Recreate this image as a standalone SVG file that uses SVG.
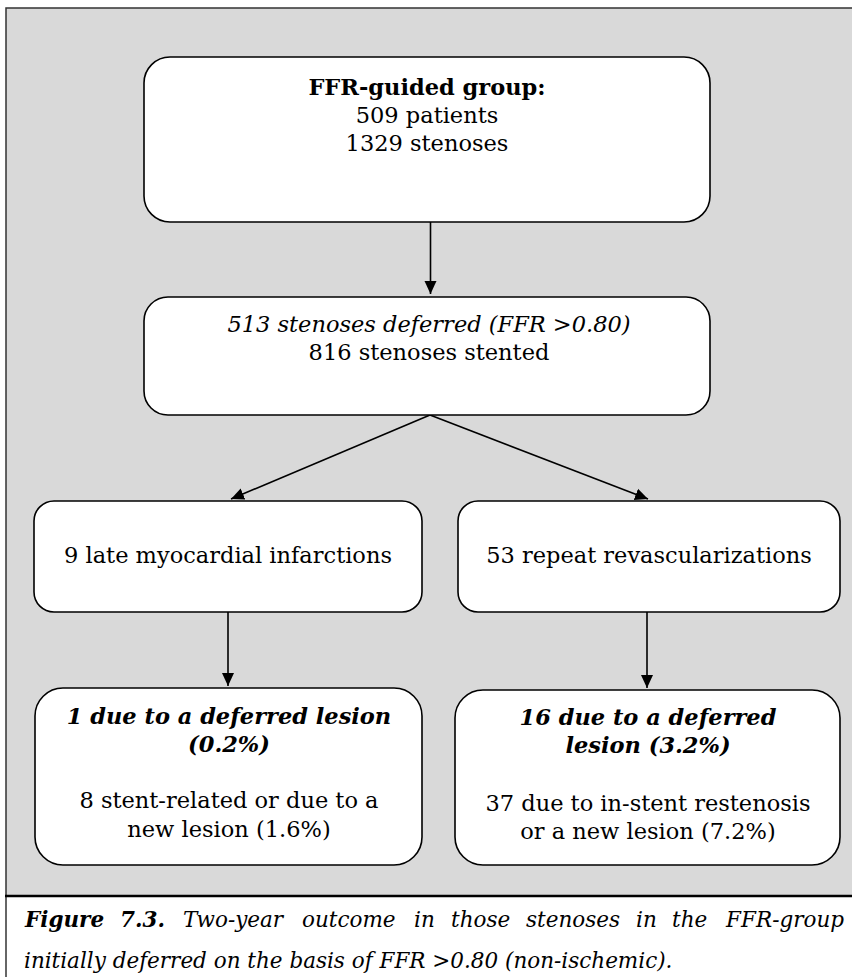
<svg xmlns="http://www.w3.org/2000/svg" width="852" height="977" viewBox="0 0 852 977">
  <style>
    .box { fill: #ffffff; stroke: #000000; stroke-width: 1.6; }
    .t { font-family: "DejaVu Serif", "Liberation Serif", serif; font-size: 22.5px; fill: #000000; text-anchor: middle; }
    .b { font-weight: bold; }
    .i { font-style: italic; }
    .cap { font-family: "DejaVu Serif", "Liberation Serif", serif; font-size: 21.5px; font-style: italic; fill: #000000; }
    .edge { stroke: #000000; stroke-width: 1.6; fill: none; marker-end: url(#head); }
  </style>
  <defs>
    <marker id="head" markerUnits="userSpaceOnUse" markerWidth="14" markerHeight="14" viewBox="0 0 14 14" refX="13" refY="7" orient="auto">
      <path d="M0,1 L13,7 L0,13 Z" fill="#000000"/>
    </marker>
  </defs>

  <!-- page frame -->
  <rect x="6" y="8" width="860" height="888" fill="#d9d9d9" stroke="#333333" stroke-width="1.5"/>
  <rect x="6.5" y="897" width="850" height="82" fill="#ffffff"/>
  <line x1="6" y1="896" x2="6" y2="977" stroke="#333333" stroke-width="1.5"/>
  <line x1="5" y1="896" x2="852" y2="896" stroke="#000000" stroke-width="2.5"/>

  <g id="connectors">
    <line class="edge" x1="430.5" y1="222" x2="430.5" y2="294"/>
    <line class="edge" x1="430" y1="415" x2="231" y2="499"/>
    <line class="edge" x1="430" y1="415" x2="648" y2="499"/>
    <line class="edge" x1="228" y1="612" x2="228" y2="686"/>
    <line class="edge" x1="647" y1="612" x2="647" y2="688"/>
  </g>

  <g id="node-ffr-group">
    <rect class="box" x="144" y="57" width="566" height="165" rx="26" ry="26"/>
    <text class="t b" x="427" y="95">FFR-guided group:</text>
    <text class="t" x="427" y="123">509 patients</text>
    <text class="t" x="427" y="151">1329 stenoses</text>
  </g>

  <g id="node-stenoses">
    <rect class="box" x="144" y="297" width="566" height="118" rx="24" ry="24"/>
    <text class="t i" x="429" y="332">513 stenoses deferred (FFR &gt;0.80)</text>
    <text class="t" x="429" y="360">816 stenoses stented</text>
  </g>

  <g id="node-mi">
    <rect class="box" x="34" y="501" width="388" height="111" rx="20" ry="20"/>
    <text class="t" x="228" y="563">9 late myocardial infarctions</text>
  </g>

  <g id="node-revasc">
    <rect class="box" x="458" y="501" width="382" height="111" rx="20" ry="20"/>
    <text class="t" x="649" y="563">53 repeat revascularizations</text>
  </g>

  <g id="node-mi-detail">
    <rect class="box" x="35" y="688" width="387" height="177" rx="28" ry="28"/>
    <text class="t b i" x="229" y="724">1 due to a deferred lesion</text>
    <text class="t b i" x="229" y="752">(0.2%)</text>
    <text class="t" x="229" y="808">8 stent-related or due to a</text>
    <text class="t" x="229" y="837">new lesion (1.6%)</text>
  </g>

  <g id="node-revasc-detail">
    <rect class="box" x="455" y="690" width="385" height="175" rx="28" ry="28"/>
    <text class="t b i" x="648" y="725">16 due to a deferred</text>
    <text class="t b i" x="648" y="753">lesion (3.2%)</text>
    <text class="t" x="648" y="811">37 due to in-stent restenosis</text>
    <text class="t" x="648" y="839">or a new lesion (7.2%)</text>
  </g>

  <!-- figure caption, first line justified word by word -->
  <g id="caption">
    <text class="cap" y="927">
      <tspan x="25" font-weight="bold">Figure</tspan>
      <tspan x="120" font-weight="bold">7.3.</tspan>
      <tspan x="183">Two-year</tspan>
      <tspan x="302">outcome</tspan>
      <tspan x="414">in</tspan>
      <tspan x="451">those</tspan>
      <tspan x="526">stenoses</tspan>
      <tspan x="636">in</tspan>
      <tspan x="672">the</tspan>
    </text>
    <text class="cap" x="844" y="927" text-anchor="end">FFR-group</text>
    <text class="cap" x="24" y="968">initially deferred on the basis of FFR &gt;0.80 (non-ischemic).</text>
  </g>
</svg>
